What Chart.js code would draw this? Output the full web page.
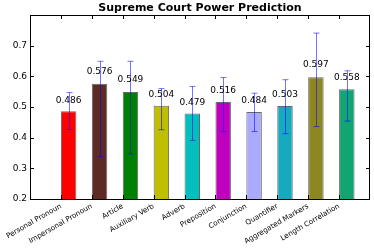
<!DOCTYPE html>
<html>
<head>
<meta charset="utf-8">
<script src="https://cdn.jsdelivr.net/npm/chart.js@4.4.0/dist/chart.umd.min.js"></script>
<style>
  html, body { margin: 0; padding: 0; background: #fff; }
  #wrap { width: 374px; height: 250px; }
</style>
</head>
<body>
<div id="wrap"><canvas id="chart"></canvas></div>
<script>
// Dados do gráfico
const categories = ['Personal Pronoun', 'Impersonal Pronoun', 'Article', 'Auxiliary Verb', 'Adverb',
  'Preposition', 'Conjunction', 'Quantifier', 'Aggregated Markers', 'Length Correlation'];
const accuracy = [0.486, 0.576, 0.549, 0.504, 0.479, 0.516, 0.484, 0.503, 0.597, 0.558];
const errLow = [0.427, 0.338, 0.347, 0.426, 0.391, 0.420, 0.420, 0.413, 0.436, 0.454];
const errHigh = [0.547, 0.649, 0.649, 0.560, 0.567, 0.596, 0.545, 0.589, 0.741, 0.618];
const barColors = ['#ff0000', '#5e2b24', '#008000', '#bfbf00', '#00bfbf',
  '#bf00bf', '#aaaaff', '#17a9be', '#8c8721', '#12a572'];
const yTicks = [0.2, 0.3, 0.4, 0.5, 0.6, 0.7];

const FONT = 'DejaVu Sans';

// Plugin: moldura, ticks internos, barras de erro, rótulos e título
const extras = {
  id: 'extras',
  afterDatasetsDraw(chart) {
    const ctx = chart.ctx;
    const xs = chart.scales.x;
    const ys = chart.scales.y;
    const meta = chart.getDatasetMeta(0);
    ctx.save();
    // barras de erro
    ctx.strokeStyle = 'rgba(0,0,255,0.55)';
    ctx.lineWidth = 1;
    meta.data.forEach((bar, i) => {
      const x = Math.round(bar.x) + 0.5;
      const yt = ys.getPixelForValue(errHigh[i]);
      const yb = ys.getPixelForValue(errLow[i]);
      ctx.beginPath();
      ctx.moveTo(x, yt); ctx.lineTo(x, yb);
      ctx.moveTo(x - 3, yt); ctx.lineTo(x + 3, yt);
      ctx.moveTo(x - 3, yb); ctx.lineTo(x + 3, yb);
      ctx.stroke();
    });
    // rótulos de valor
    ctx.fillStyle = '#000';
    ctx.font = '9px "' + FONT + '"';
    ctx.textAlign = 'center';
    ctx.textBaseline = 'bottom';
    meta.data.forEach((bar, i) => {
      ctx.fillText(accuracy[i].toFixed(3), bar.x, ys.getPixelForValue(accuracy[i] * 1.05) + 1);
    });
    // moldura
    const a = chart.chartArea;
    ctx.strokeStyle = '#000';
    ctx.lineWidth = 1;
    ctx.strokeRect(Math.round(a.left) + 0.5, Math.round(a.top) + 0.5,
      Math.round(a.right - a.left) - 1, Math.round(a.bottom - a.top));
    ctx.beginPath();
    categories.forEach((c, i) => {
      const x = Math.round(xs.getPixelForValue(i + 1)) + 0.5;
      ctx.moveTo(x, a.top); ctx.lineTo(x, a.top + 4);
      ctx.moveTo(x, a.bottom); ctx.lineTo(x, a.bottom - 4);
    });
    yTicks.forEach(v => {
      const y = Math.round(ys.getPixelForValue(v)) + 0.5;
      ctx.moveTo(a.left, y); ctx.lineTo(a.left + 4, y);
      ctx.moveTo(a.right, y); ctx.lineTo(a.right - 4, y);
    });
    ctx.stroke();
    // título
    ctx.font = 'bold 11px "' + FONT + '"';
    ctx.textBaseline = 'bottom';
    ctx.fillText('Supreme Court Power Prediction', (a.left + a.right) / 2, a.top - 1);
    ctx.restore();
  }
};

const ctx1 = document.getElementById('chart').getContext('2d');
const chart1 = new Chart(ctx1, {
  type: 'bar',
  data: {
    datasets: [{
      data: accuracy.map((v, i) => ({ x: i + 1.25, y: v })),
      backgroundColor: barColors,
      borderColor: 'rgba(40,40,40,0.7)',
      borderWidth: 1,
      borderSkipped: false,
      categoryPercentage: 1,
      barPercentage: 0.5
    }]
  },
  options: {
    responsive: true,
    maintainAspectRatio: false,
    animation: { duration: 0 },
    layout: { padding: { left: 0, right: 4, top: 15, bottom: 0 } },
    plugins: {
      legend: { display: false },
      tooltip: { enabled: false }
    },
    scales: {
      x: {
        type: 'linear',
        min: 0,
        max: 11,
        offset: false,
        grid: { display: false, drawTicks: false, offset: false },
        border: { display: false },
        afterBuildTicks: (axis) => { axis.ticks = categories.map((c, i) => ({ value: i + 1 })); },
        afterFit: (axis) => { axis.height = 51; },
        ticks: {
          autoSkip: false,
          minRotation: 30,
          maxRotation: 30,
          padding: 3,
          color: '#000',
          font: { family: FONT, size: 7.2 },
          callback: (v, i) => categories[i]
        }
      },
      y: {
        min: 0.2,
        max: 0.8,
        grid: { display: false, drawTicks: false },
        border: { display: false },
        afterBuildTicks: (axis) => { axis.ticks = yTicks.map(v => ({ value: v })); },
        afterFit: (axis) => { axis.width = 30; },
        ticks: {
          padding: 3,
          color: '#000',
          font: { family: FONT, size: 9 },
          callback: (v) => v.toFixed(1)
        }
      }
    }
  },
  plugins: [extras]
});
</script>
</body>
</html>
